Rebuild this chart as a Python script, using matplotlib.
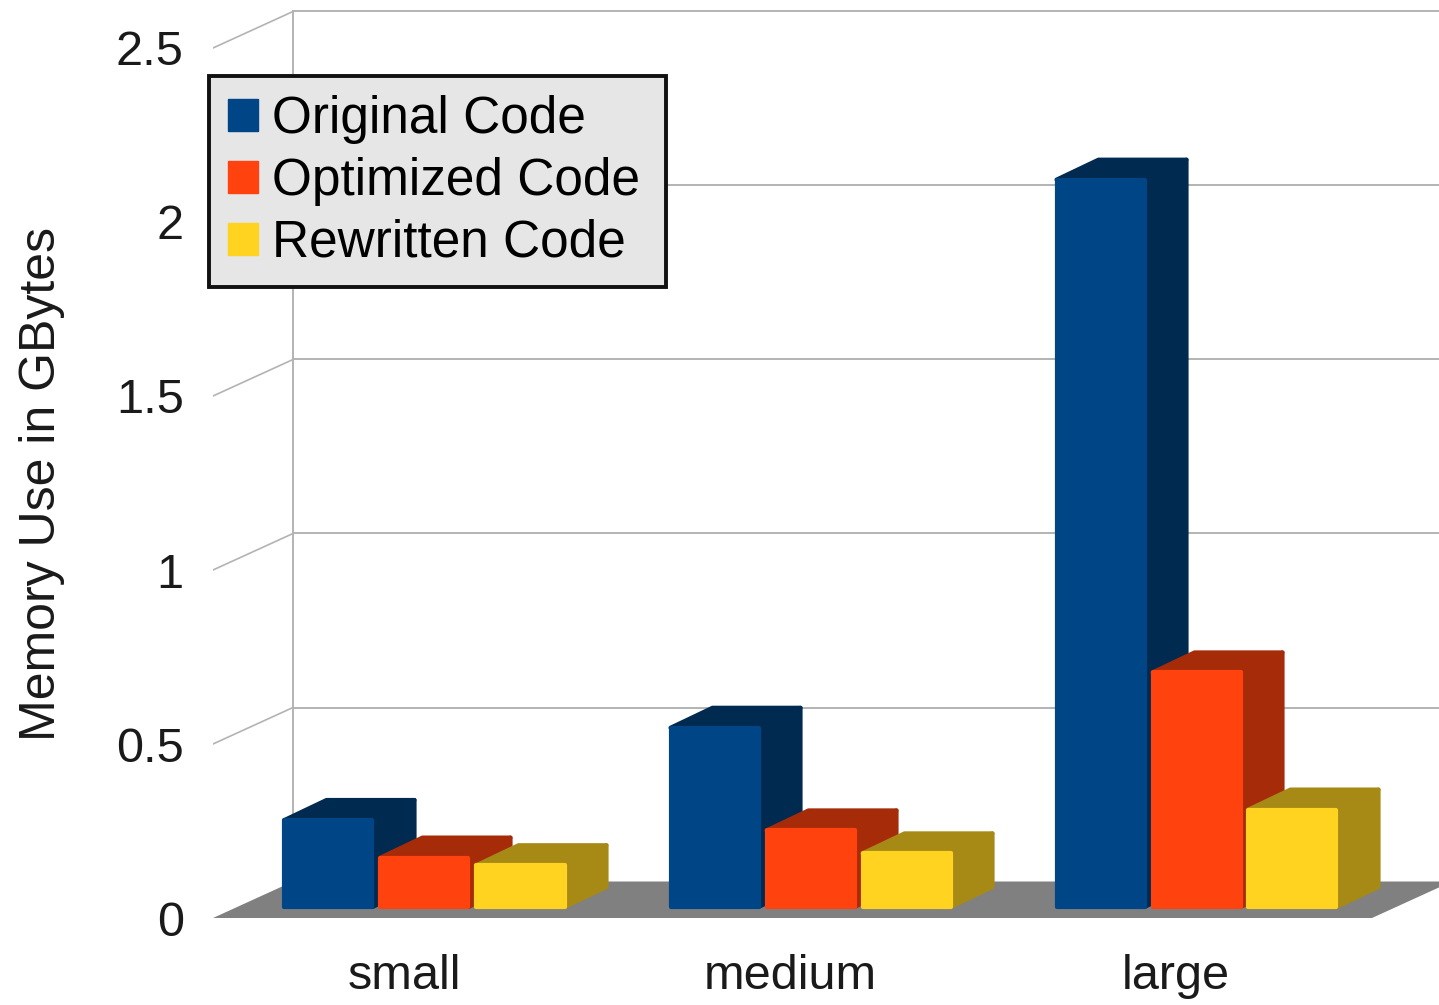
import matplotlib
matplotlib.use('Agg')
import matplotlib.pyplot as plt
from matplotlib.patches import Patch

plt.rcParams['font.family'] = ['Liberation Sans', 'DejaVu Sans']

categories = ['small', 'medium', 'large']
series_names = ['Original Code', 'Optimized Code', 'Rewritten Code']
original = [0.25, 0.515, 2.09]
optimized = [0.142, 0.22, 0.674]
rewritten = [0.12, 0.154, 0.28]
y_ticks = [0, 0.5, 1, 1.5, 2, 2.5]
y_tick_labels = ['0', '0.5', '1', '1.5', '2', '2.5']

front_colors = ['#004586', '#ff420e', '#ffd320']
side_colors = ['#002a50', '#a62c09', '#a68a15']
floor_color = '#808080'
grid_color = '#b3b3b3'

W, H = 1439, 1005
LEFT, BASE, TOP = 213, 918, 5
PX_PER_CAT = 386.0
PX_PER_GB = 348.0

fig = plt.figure(figsize=(W / 100, H / 100), dpi=100)
ax = fig.add_axes([LEFT / W, (H - BASE) / H, (W - LEFT) / W, (BASE - TOP) / H])
ax.set_xlim((LEFT - 404) / PX_PER_CAT, (W - 404) / PX_PER_CAT)
ax.set_ylim(0, (BASE - TOP) / PX_PER_GB)
for s in ax.spines.values():
    s.set_visible(False)

# depth of the floor, in data units
depth_x = 80 / PX_PER_CAT
depth_y = 36.5 / PX_PER_GB
x0 = ax.get_xlim()[0]
x1 = ax.get_xlim()[1]
y_top = y_ticks[-1]

# back wall and floor
for t in y_ticks[1:]:
    ax.plot([x0, x0 + depth_x], [t, t + depth_y], color=grid_color, lw=1.2, zorder=1)
    ax.plot([x0 + depth_x, x1], [t + depth_y, t + depth_y], color=grid_color, lw=1.4, zorder=1)
ax.plot([x0 + depth_x, x0 + depth_x], [depth_y, y_top + depth_y], color=grid_color, lw=1.4, zorder=1)
ax.plot([x0 - 0.007, x0 - 0.007], [0, y_top], color='#ececec', lw=1.2, zorder=1)
ax.fill([x0, x0 + 1159 / PX_PER_CAT, x0 + 1239 / PX_PER_CAT, x0 + depth_x],
        [0, 0, depth_y, depth_y], color=floor_color, lw=0, zorder=2)

bar_pitch = 96 / PX_PER_CAT
bar_w = 88 / PX_PER_CAT
bar_x_start = 24.5 / PX_PER_CAT
bar_base = 11 / PX_PER_GB
bar_dx = 42 / PX_PER_CAT
bar_dy = 20 / PX_PER_GB
zo = 3
for i in range(len(categories)):
    for j, vals in enumerate([original, optimized, rewritten]):
        v = vals[i]
        xl = i + (j - 1.5) * bar_pitch + bar_x_start
        xr = xl + bar_w
        yb = bar_base
        yt = yb + v
        # top and right faces first, the front goes over them
        ax.fill([xl, xr, xr + bar_dx, xl + bar_dx], [yt, yt, yt + bar_dy, yt + bar_dy],
                color=side_colors[j], lw=3, joinstyle='round', zorder=zo)
        ax.fill([xr, xr + bar_dx, xr + bar_dx, xr], [yb, yb + bar_dy, yt + bar_dy, yt],
                color=side_colors[j], lw=3, joinstyle='round', zorder=zo)
        ax.bar(xl, v, width=bar_w, bottom=yb, align='edge', color=front_colors[j],
               edgecolor=front_colors[j], linewidth=3, joinstyle='round', zorder=zo + 1)
        zo += 2

ax.set_xticks(range(len(categories)))
ax.set_xticklabels(categories, fontsize=35, color='#1a1a1a')
ax.set_yticks(y_ticks)
ax.set_yticklabels(y_tick_labels, fontsize=35, color='#1a1a1a')
ax.tick_params(axis='both', length=0)
ax.tick_params(axis='x', pad=26)
ax.tick_params(axis='y', pad=21)
ax.set_ylabel('Memory Use in GBytes', fontsize=36, color='#1a1a1a', va='center')
ax.yaxis.set_label_coords((42 - LEFT) / (W - LEFT), (BASE - 484) / (BASE - TOP))

handles = [Patch(facecolor=c, edgecolor=c) for c in front_colors]
# expand mode keeps the frame at the full box width
leg = fig.legend(handles, series_names, loc='upper left', mode='expand',
                 bbox_to_anchor=(209 / W, 1 - 285 / H, 457 / W, 209 / H), borderaxespad=0,
                 prop={'size': 37}, fancybox=False, framealpha=1,
                 facecolor='#e6e6e6', edgecolor='#111111',
                 handlelength=0.58, handleheight=0.58, handletextpad=0.28,
                 labelspacing=0.25, borderpad=0.37)
leg.get_frame().set_linewidth(2.8)
leg.set_zorder(50)

fig.savefig('out.png', dpi=100)
